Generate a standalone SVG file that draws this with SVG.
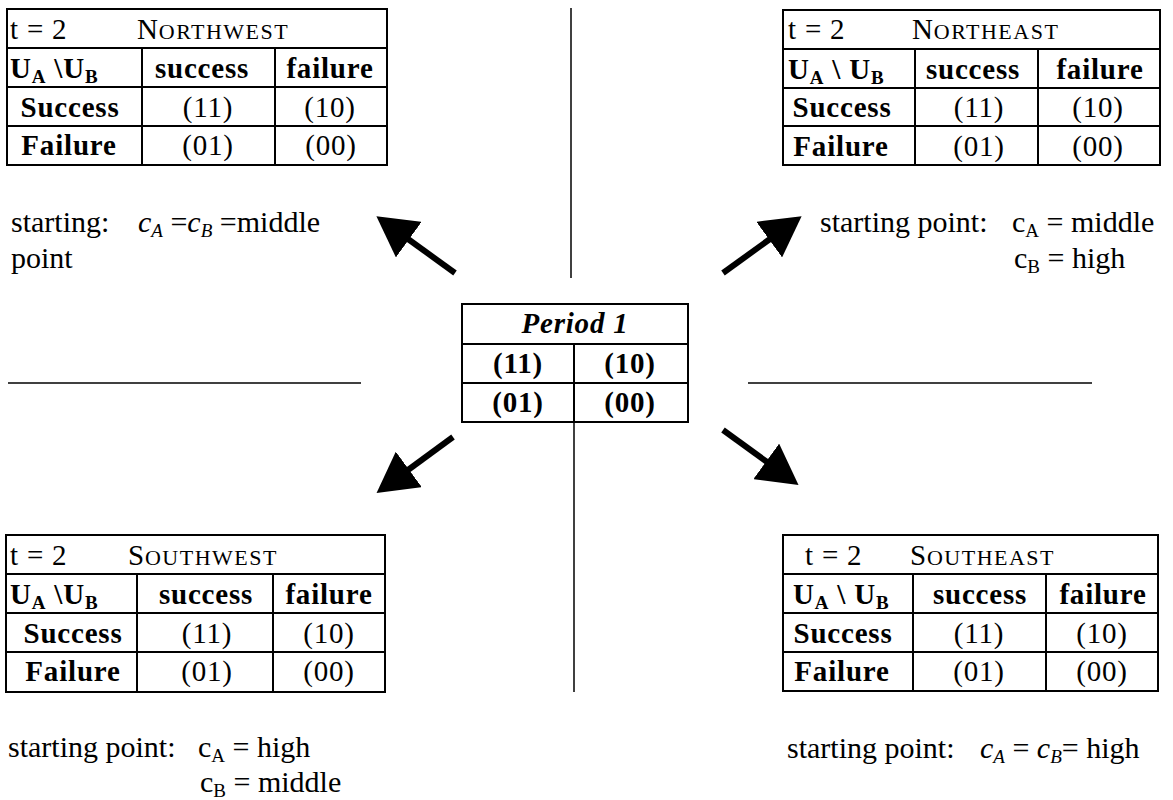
<svg xmlns="http://www.w3.org/2000/svg" width="1173" height="800" viewBox="0 0 1173 800">
<style>
text{font-family:"Liberation Serif","Times New Roman",serif;fill:#000}
.t{font-size:29px;letter-spacing:0.8px}
.b{font-weight:bold}
.m{text-anchor:middle}
.sc{font-size:22px;letter-spacing:1.5px}
.sub{font-size:19px}
.cap{font-size:30px}
.it{font-style:italic}
.box{fill:#fff;stroke:#000;stroke-width:2}
.grid{stroke:#000;stroke-width:2;fill:none}
.rule{stroke:#000;stroke-width:1.5;fill:none}
.arrow{stroke:#000;stroke-width:6;fill:none;marker-end:url(#head)}
</style>
<defs>
<marker id="head" markerUnits="userSpaceOnUse" viewBox="0 0 40 44" markerWidth="40" markerHeight="44" refX="1" refY="22" orient="auto">
<path d="M0,0 L40,22 L0,44 Z" fill="#000"/>
</marker>
</defs>

<g id="connectors">
<path class="rule" d="M571,8 V278"/>
<path class="rule" d="M574,422 V692"/>
<path class="rule" d="M8,383 H361"/>
<path class="rule" d="M748,383 H1092"/>
<path class="arrow" d="M455,273 L408,239"/>
<path class="arrow" d="M723,273 L770,239"/>
<path class="arrow" d="M453,437 L408,470"/>
<path class="arrow" d="M723,430 L767,462"/>
</g>

<g id="period1">
<rect class="box" x="462" y="304" width="226" height="118"/>
<path class="grid" d="M462,344 H688 M462,383 H688 M574,344 V422"/>
<text class="t b it m" x="575" y="333">Period 1</text>
<text class="t b m" x="518" y="373">(11)</text>
<text class="t b m" x="630" y="373">(10)</text>
<text class="t b m" x="518" y="412">(01)</text>
<text class="t b m" x="630" y="412">(00)</text>
</g>

<g id="northwest">
<rect class="box" x="7" y="9" width="380" height="156"/>
<path class="grid" d="M7,48 H387 M7,87 H387 M7,126 H387 M142,48 V165 M275,48 V165"/>
<text class="t" x="10" y="39" letter-spacing="3">t = 2</text>
<text class="t" x="137" y="39">N<tspan class="sc">ORTHWEST</tspan></text>
<text class="t b" x="10" y="78">U<tspan class="sub" dy="5">A</tspan><tspan dy="-5"> \U</tspan><tspan class="sub" dy="5">B</tspan></text>
<text class="t b m" x="202" y="78">success</text>
<text class="t b m" x="330" y="78">failure</text>
<text class="t b m" x="70" y="117">Success</text>
<text class="t m" x="208" y="117">(11)</text>
<text class="t m" x="330" y="117">(10)</text>
<text class="t b m" x="69" y="155">Failure</text>
<text class="t m" x="208" y="155">(01)</text>
<text class="t m" x="331" y="155">(00)</text>
</g>

<g id="northwest-note">
<text class="cap" x="11" y="232">starting:<tspan class="it" x="138">c</tspan><tspan class="it sub" dy="5">A</tspan><tspan dy="-5"> =</tspan><tspan class="it">c</tspan><tspan class="it sub" dy="5">B</tspan><tspan dy="-5"> =middle</tspan></text>
<text class="cap" x="11" y="268">point</text>
</g>

<g id="northeast">
<rect class="box" x="783" y="10" width="377" height="155"/>
<path class="grid" d="M783,49 H1160 M783,88 H1160 M783,126 H1160 M915,49 V165 M1038,49 V165"/>
<text class="t" x="788" y="39" letter-spacing="3">t = 2</text>
<text class="t" x="912" y="39">N<tspan class="sc">ORTHEAST</tspan></text>
<text class="t b" x="788" y="79">U<tspan class="sub" dy="5">A</tspan><tspan dy="-5"> \ U</tspan><tspan class="sub" dy="5">B</tspan></text>
<text class="t b m" x="973" y="79">success</text>
<text class="t b m" x="1100" y="79">failure</text>
<text class="t b m" x="842" y="117">Success</text>
<text class="t m" x="979" y="117">(11)</text>
<text class="t m" x="1098" y="117">(10)</text>
<text class="t b m" x="841" y="156">Failure</text>
<text class="t m" x="979" y="156">(01)</text>
<text class="t m" x="1098" y="156">(00)</text>
</g>

<g id="northeast-note">
<text class="cap" x="820" y="232">starting point:<tspan x="1012">c</tspan><tspan class="sub" dy="5">A</tspan><tspan dy="-5"> = middle</tspan></text>
<text class="cap" x="1014" y="268">c<tspan class="sub" dy="5">B</tspan><tspan dy="-5"> = high</tspan></text>
</g>

<g id="southwest">
<rect class="box" x="6" y="535" width="379" height="157"/>
<path class="grid" d="M6,574 H385 M6,613 H385 M6,652 H385 M137,574 V692 M273,574 V692"/>
<text class="t" x="10" y="565" letter-spacing="3">t = 2</text>
<text class="t" x="128" y="565">S<tspan class="sc">OUTHWEST</tspan></text>
<text class="t b" x="10" y="604">U<tspan class="sub" dy="5">A</tspan><tspan dy="-5"> \U</tspan><tspan class="sub" dy="5">B</tspan></text>
<text class="t b m" x="206" y="604">success</text>
<text class="t b m" x="329" y="604">failure</text>
<text class="t b m" x="73" y="643">Success</text>
<text class="t m" x="207" y="643">(11)</text>
<text class="t m" x="329" y="643">(10)</text>
<text class="t b m" x="73" y="681">Failure</text>
<text class="t m" x="207" y="681">(01)</text>
<text class="t m" x="329" y="681">(00)</text>
</g>

<g id="southwest-note">
<text class="cap" x="8" y="757">starting point:<tspan x="198">c</tspan><tspan class="sub" dy="5">A</tspan><tspan dy="-5"> = high</tspan></text>
<text class="cap" x="200" y="792">c<tspan class="sub" dy="5">B</tspan><tspan dy="-5"> = middle</tspan></text>
</g>

<g id="southeast">
<rect class="box" x="783" y="535" width="375" height="156"/>
<path class="grid" d="M783,574 H1158 M783,613 H1158 M783,652 H1158 M913,574 V691 M1046,574 V691"/>
<text class="t" x="805" y="565" letter-spacing="3">t = 2</text>
<text class="t" x="910" y="565">S<tspan class="sc">OUTHEAST</tspan></text>
<text class="t b" x="793" y="604">U<tspan class="sub" dy="5">A</tspan><tspan dy="-5"> \ U</tspan><tspan class="sub" dy="5">B</tspan></text>
<text class="t b m" x="980" y="604">success</text>
<text class="t b m" x="1103" y="604">failure</text>
<text class="t b m" x="843" y="643">Success</text>
<text class="t m" x="979" y="643">(11)</text>
<text class="t m" x="1102" y="643">(10)</text>
<text class="t b m" x="842" y="681">Failure</text>
<text class="t m" x="979" y="681">(01)</text>
<text class="t m" x="1102" y="681">(00)</text>
</g>

<g id="southeast-note">
<text class="cap" x="787" y="758">starting point:<tspan class="it" x="980">c</tspan><tspan class="it sub" dy="5">A</tspan><tspan dy="-5"> = </tspan><tspan class="it">c</tspan><tspan class="it sub" dy="5">B</tspan><tspan dy="-5">= high</tspan></text>
</g>
</svg>
